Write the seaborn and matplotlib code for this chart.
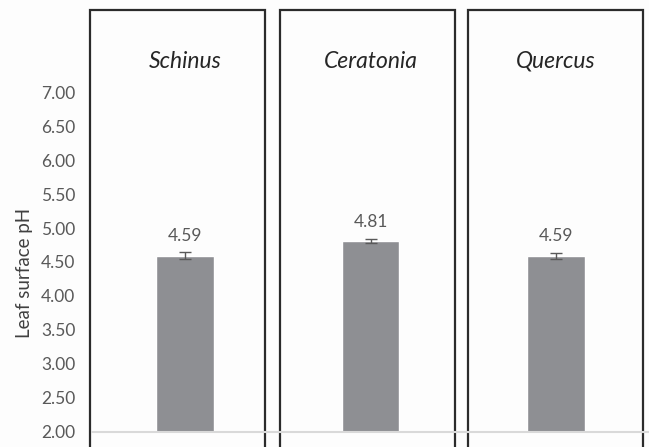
import matplotlib
matplotlib.use("Agg")
import matplotlib.pyplot as plt
from matplotlib.patches import Rectangle
from matplotlib.ticker import FormatStrFormatter
import seaborn as sns
import pandas as pd

# Leaf surface pH per genus (mean and error)
genera = ["Schinus", "Ceratonia", "Quercus"]
mean_ph = [4.59, 4.81, 4.59]
err_ph = [0.05, 0.03, 0.045]
yticks = [2.0, 2.5, 3.0, 3.5, 4.0, 4.5, 5.0, 5.5, 6.0, 6.5, 7.0]

sns.set_theme(style="white")
plt.rcParams["font.family"] = ["Lato", "DejaVu Sans"]

df = pd.DataFrame({"genus": genera, "ph": mean_ph})

fig = plt.figure(figsize=(6.49, 4.47), dpi=100)
fig.patch.set_facecolor("#fdfdfd")
ax = fig.add_axes([92 / 649, 15 / 447, 557 / 649, 422 / 447])
ax.set_facecolor("#fdfdfd")

sns.barplot(data=df, x="genus", y="ph", order=genera, color="#8e8f93",
            saturation=1, width=0.31, errorbar=None, ax=ax, zorder=2)
ax.errorbar(range(len(genera)), mean_ph, yerr=err_ph, fmt="none",
            ecolor="#595959", elinewidth=1, capsize=4, capthick=1, zorder=3)

ax.set_xlim(-0.5, len(genera) - 0.5)
ax.set_ylim(2.0, 2.0 + 422 / 68)

# Value labels above each error bar
for i, (m, e) in enumerate(zip(mean_ph, err_ph)):
    ax.annotate(f"{m:.2f}", xy=(i, m + e), xytext=(0, 12), textcoords="offset points",
                ha="center", va="center", fontsize=12.5, color="#595959")

# Panel frames with genus names (left edge offsets from each category centre)
frame_offsets = [-0.512, -0.486, -0.473]
frame_width = 0.9425
for i, name in enumerate(genera):
    ax.add_patch(Rectangle((i + frame_offsets[i], 1.7), frame_width, 8.21 - 1.7, fill=False,
                           edgecolor="#2b2b2b", linewidth=1.6, clip_on=False, zorder=4))
    ax.text(i, 7.45, name, ha="center", va="center", fontsize=16.5,
            style="italic", color="#262626")

ax.axhline(2.0, color="#d9d9d9", linewidth=1.5, zorder=5, clip_on=False)

ax.set_yticks(yticks)
ax.yaxis.set_major_formatter(FormatStrFormatter("%.2f"))
ax.tick_params(axis="y", length=0, pad=12, labelsize=12.5, labelcolor="#595959")
ax.set_xticks([])
ax.set_xlabel("")
ax.set_ylabel("Leaf surface pH", fontsize=13.5, color="#404040")
ax.yaxis.set_label_coords(-59 / 557, (447 - 273 - 15) / 422)
for s in ax.spines.values():
    s.set_visible(False)

fig.savefig("out.png", dpi=100, facecolor=fig.get_facecolor())
